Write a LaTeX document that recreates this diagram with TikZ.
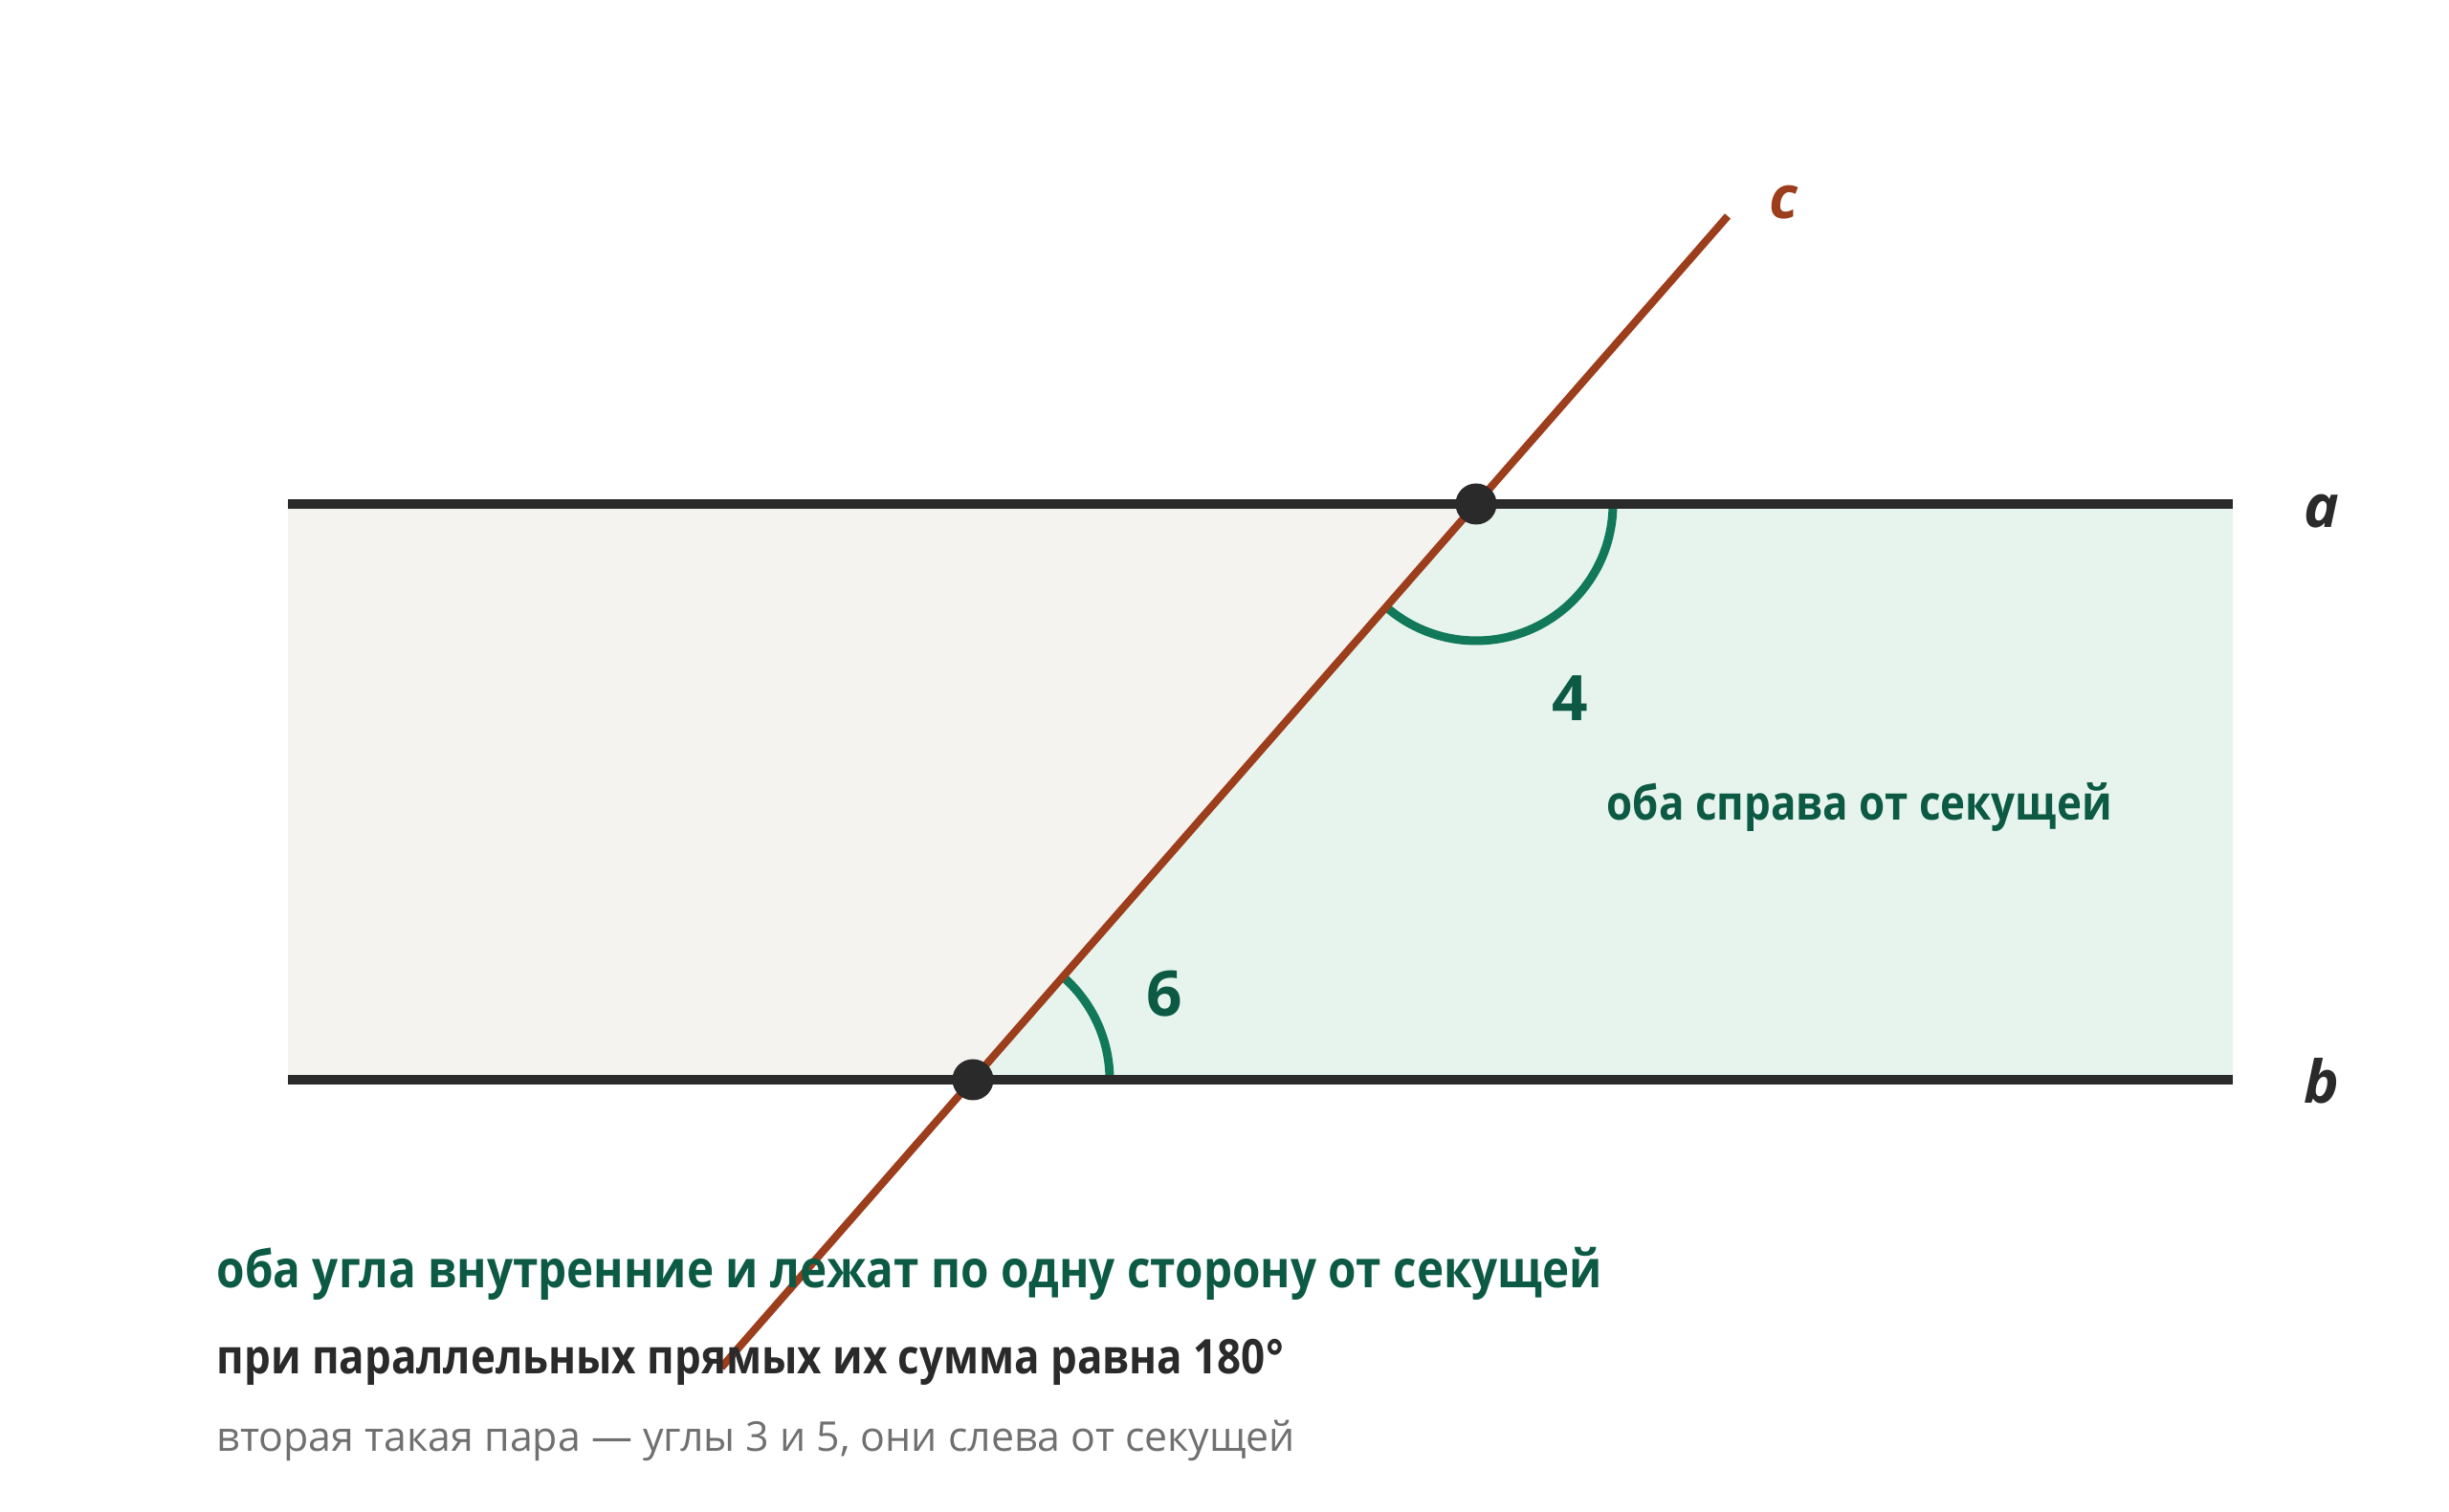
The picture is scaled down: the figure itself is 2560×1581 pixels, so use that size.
\documentclass[tikz,border=0pt]{standalone}
\usepackage{fontspec}
\setmainfont{Open Sans}
\usetikzlibrary{calc,positioning}
\definecolor{linedark}{HTML}{2A2A2A}
\definecolor{secbrown}{HTML}{9C3D1C}
\definecolor{arcgreen}{HTML}{12785A}
\definecolor{textgreen}{HTML}{0C5A44}
\definecolor{leftfill}{HTML}{F4F3EF}
\definecolor{rightfill}{HTML}{E6F4ED}
\definecolor{notegray}{HTML}{707070}
\tikzset{parallel/.style={linedark, line width=1mm},
  secant/.style={secbrown, line width=0.8mm},
  anglearc/.style={arcgreen, line width=0.9mm},
  point/.style={circle, fill=linedark, inner sep=0pt, minimum size=4.3mm},
  anglelabel/.style={textgreen, inner sep=0pt, font=\fontsize{18.7}{22}\selectfont\bfseries},
  linelabel/.style={linedark, inner sep=0pt, font=\fontsize{17.6}{21}\selectfont\bfseries\itshape},
  caption/.style={anchor=base west, inner sep=0pt, font=\fontsize{14.2}{17}\selectfont\bfseries\addfontfeatures{FakeStretch=0.88}}}

\begin{document}
\begin{tikzpicture}[x=0.1mm,y=0.1mm]
   \useasboundingbox (0,0) rectangle (2560,1581);
   \coordinate (aL) at ( 301,1054);
   \coordinate (aR) at (2334,1054);
   \coordinate (bL) at ( 301, 452);
   \coordinate (bR) at (2334, 452);
   \coordinate (A)  at (1543,1054);
   \coordinate (B)  at (1017, 452);
   \fill[leftfill]  (aL) -- (A) -- (B) -- (bL) -- cycle;
   \fill[rightfill] (A) -- (aR) -- (bR) -- (B) -- cycle;
   \draw[anglearc] (A) ++(0:14.3mm) arc[start angle=0, end angle=-131.15, radius=14.3mm];
   \draw[anglearc] (B) ++(0:14.3mm) arc[start angle=0, end angle=48.85, radius=14.3mm];
   \draw[parallel] (aL) -- (aR);
   \draw[parallel] (bL) -- (bR);
   \draw[secant] ($(B)!-0.5!(A)$) coordinate (cS) -- ($(A)!-0.5!(B)$) coordinate (cE);
   \node[point] (pA) at (A) {};
   \node[point] (pB) at (B) {};
   \node[linelabel] (la) at (2427,1046) {a};
   \node[linelabel] (lb) at (2427, 451) {b};
   \node[linelabel, secbrown] (lc) at (1864,1369) {c};
   \node[anglelabel] (n4) at (1641, 851) {4};
   \node[anglelabel] (n6) at (1217, 542) {6};
   \node[caption, textgreen] (side) at (1679, 723) {оба справа от секущей};
   \node[caption, textgreen, font=\fontsize{15.4}{18}\selectfont\bfseries\addfontfeatures{FakeStretch=0.88}] (rule) at ( 226, 234) {оба угла внутренние и лежат по одну сторону от секущей};
   \node[caption, linedark]  (sum)  at ( 226, 144) {при параллельных прямых их сумма равна 180°};
   \node[caption, notegray, font=\fontsize{12.2}{15}\selectfont] (pair) at ( 226,  63) {вторая такая пара — углы 3 и 5, они слева от секущей};
\end{tikzpicture}
\end{document}
